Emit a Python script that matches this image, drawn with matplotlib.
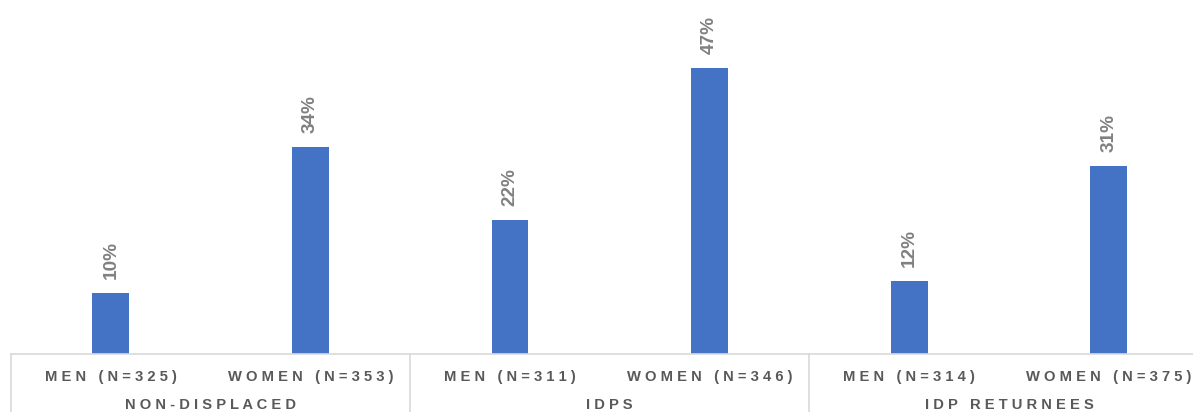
import matplotlib
matplotlib.use("Agg")
import matplotlib.pyplot as plt

# share of respondents, by displacement status and sex
groups = ["NON-DISPLACED", "IDPS", "IDP RETURNEES"]
categories = ["MEN (N=325)", "WOMEN (N=353)",
              "MEN (N=311)", "WOMEN (N=346)",
              "MEN (N=314)", "WOMEN (N=375)"]
values = [10, 34, 22, 47, 12, 31]

BAR = "#4472C4"
GRID = "#D9D9D9"
FONT = ["Liberation Sans", "DejaVu Sans"]


def spaced(s):
    # wide letter spacing for the axis captions
    return "   ".join(" ".join(w) for w in s.split(" "))


fig = plt.figure(figsize=(11.93, 4.12), dpi=100)
W, H = 1193, 412
base = 354
cat_w = 199.6
ax = fig.add_axes([11 / W, (H - base) / H, 6 * cat_w / W, base / H])

x = list(range(len(values)))
ax.bar(x, values, width=0.185, color=BAR)
ax.set_xlim(-0.5, 5.5)
ax.set_ylim(0, base / 6.08)

for xi, v in zip(x, values):
    ax.annotate(f"{v}%", (xi, v), xytext=(0, 10), textcoords="offset points",
                rotation=90, ha="center", va="bottom", fontsize=13.7,
                fontweight="bold", color="#808080", family=FONT)

for s in ax.spines.values():
    s.set_visible(False)
ax.set_xticks([])
ax.set_yticks([])

tr = ax.get_xaxis_transform()
ax.plot([-0.5, 5.5], [0, 0], color=GRID, lw=1.2, transform=tr, clip_on=False)
bottom = -(H - base) / base
for xs in [-0.5, 1.5, 3.5, 5.5]:
    ax.plot([xs, xs], [0, bottom], color=GRID, lw=1.2, transform=tr, clip_on=False)

for xi, c in zip(x, categories):
    ax.text(xi, -23 / base, spaced(c), transform=tr, ha="center", va="center",
            fontsize=10.6, fontweight="bold", color="#595959", family=FONT)

for gi, g in enumerate(groups):
    ax.text(2 * gi + 0.5, -51 / base, spaced(g), transform=tr, ha="center",
            va="center", fontsize=10.6, fontweight="bold", color="#595959",
            family=FONT)

fig.savefig("out.png", dpi=100)
